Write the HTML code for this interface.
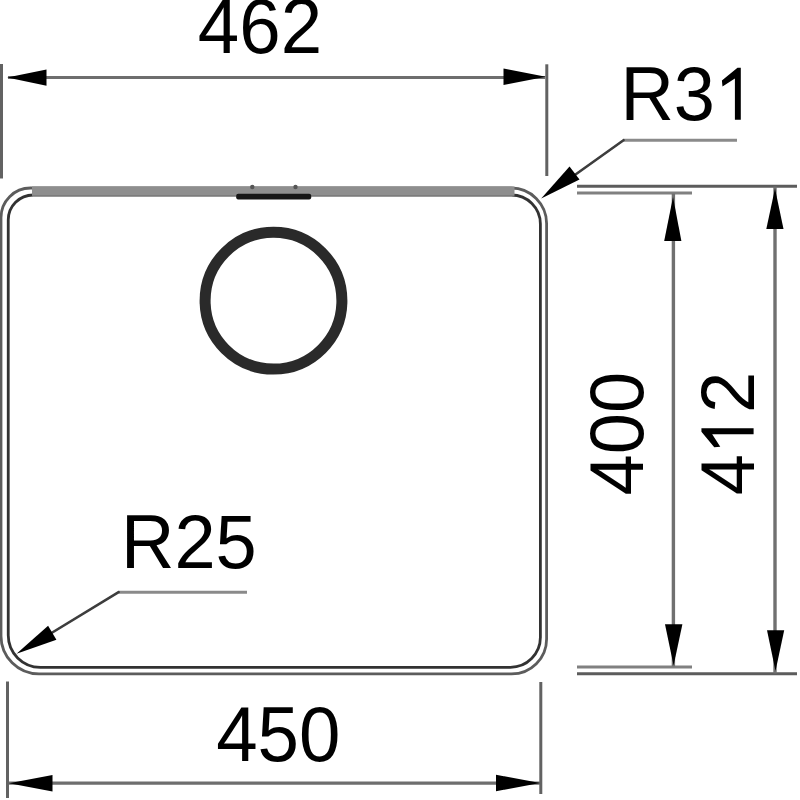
<!DOCTYPE html>
<html>
<head>
<meta charset="utf-8">
<style>
html,body{margin:0;padding:0;background:#fff;width:800px;height:800px;overflow:hidden;}
svg{display:block;position:absolute;left:0;top:0;}
text{font-family:"Liberation Sans", sans-serif;fill:#000;}
</style>
</head>
<body>
<svg width="800" height="800" viewBox="0 0 800 800">
  <defs><filter id="b" x="-5%" y="-5%" width="110%" height="110%"><feGaussianBlur stdDeviation="0.7"/></filter></defs>
  <g filter="url(#b)">
  <!-- dimension / extension lines -->
  <g stroke="#626262" stroke-width="3" fill="none">
    <!-- 462 ext -->
    <line x1="1.5" y1="64" x2="1.5" y2="178.5"/>
    <line x1="546.8" y1="64.3" x2="546.8" y2="176"/>
    <!-- 450 ext -->
    <line x1="7.5" y1="681.5" x2="7.5" y2="798"/>
    <line x1="540.8" y1="682" x2="540.8" y2="794"/>
    <!-- right extension lines -->
    <line x1="577" y1="186.2" x2="797" y2="186.2" stroke="#5c5c5c"/>
    <line x1="577" y1="193.1" x2="692" y2="193.1" stroke="#808080"/>
    <line x1="577" y1="666.9" x2="692" y2="666.9" stroke="#808080"/>
    <line x1="577" y1="673.8" x2="797" y2="673.8" stroke="#5c5c5c"/>
  </g>
  <g stroke="#6e6e6e" stroke-width="3.2" fill="none">
    <line x1="8" y1="77.5" x2="545" y2="77.5"/>
    <line x1="9" y1="783.2" x2="540" y2="783.2"/>
  </g>
  <g stroke="#707070" stroke-width="3.4" fill="none">
    <line x1="673.4" y1="193.5" x2="673.4" y2="666.5"/>
    <line x1="775" y1="186.5" x2="775" y2="673.5"/>
  </g>
  <!-- leaders -->
  <g stroke="#8a8a8a" stroke-width="3" fill="none">
    <line x1="737" y1="140.2" x2="623.5" y2="140.2"/>
    <line x1="247" y1="592.2" x2="118.6" y2="592.2"/>
  </g>
  <g stroke="#3c3c3c" stroke-width="2.6" fill="none" stroke-linecap="round">
    <line x1="623.5" y1="140.2" x2="565" y2="182"/>
    <line x1="118.6" y1="592.2" x2="40" y2="640"/>
  </g>

  <!-- arrowheads -->
  <g fill="#000" stroke="none">
    <polygon points="7.2,77.6 46.5,69.6 46.5,85.8"/>
    <polygon points="545.8,76.8 503.5,68.6 503.5,85"/>
    <polygon points="9,783.2 52.5,775.1 52.5,791.5"/>
    <polygon points="540.2,783 496,774.8 496,791.2"/>
    <polygon points="673,197 664.2,241 681.4,241"/>
    <polygon points="673.6,665.5 665,624.3 682.4,624.3"/>
    <polygon points="775,188.5 766.3,229 783.5,229"/>
    <polygon points="775.5,671 767,630.3 784.2,630.3"/>
  </g>
  <!-- R31 arrow -->
  <g transform="translate(541.2,198.5) rotate(-37.5)">
    <polygon points="0,0 42,-8.2 42,8.2" fill="#000"/>
  </g>
  <!-- R25 arrow -->
  <g transform="translate(16.5,653.8) rotate(-30.5)">
    <polygon points="0,0 41.5,-8.2 41.5,8.2" fill="#000"/>
  </g>

  <!-- sink outline -->
  <path d="M30.50,188.00 H511.10 C530.71,188.00 546.60,203.89 546.60,223.50 V638.90 C546.60,658.23 530.93,673.90 511.60,673.90 H39.00 C18.01,673.90 1.00,656.89 1.00,635.90 V217.50 C1.00,201.21 14.21,188.00 30.50,188.00Z" fill="none" stroke="#5c5c5c" stroke-width="2.8"/>
  <path d="M33.25,195.00 H511.40 C527.42,195.00 540.40,207.98 540.40,224.00 V637.30 C540.40,653.87 526.97,667.30 510.40,667.30 H40.25 C22.58,667.30 8.25,652.97 8.25,635.30 V220.00 C8.25,206.19 19.44,195.00 33.25,195.00Z" fill="none" stroke="#333" stroke-width="2.8"/>
  <rect x="32" y="186.5" width="482.5" height="9.3" fill="#8e8e8e"/>

  <!-- overflow -->
  <rect x="236.2" y="193.8" width="75" height="5.6" rx="2" fill="#151515"/>
  <circle cx="252.3" cy="187" r="2.2" fill="#555"/>
  <circle cx="295.5" cy="187" r="2.2" fill="#555"/>

  <!-- drain -->
  <circle cx="273.5" cy="300.7" r="68.4" fill="none" stroke="#2a2a2a" stroke-width="11"/>

  <!-- texts -->
  <g transform="translate(197.8,52.5) scale(1,1.035)"><text x="0" y="0" font-size="74.5">462</text></g>
  <g transform="translate(620.4,119.8) scale(1,1.035)"><text x="0" y="0" font-size="74">R3</text><path transform="translate(94.6,0)" d="M19.9,0 V-40 L7.5,-32.2 L6.9,-38 L22.5,-50.4 H25.8 V0 Z" fill="#000"/></g>
  <g transform="translate(121,567.6) scale(1,1.035)"><text x="0" y="0" font-size="74">R25</text></g>
  <g transform="translate(216.2,760.6) scale(1,1.035)"><text x="0" y="0" font-size="74.5">450</text></g>
  <g transform="translate(642.6,495.4) rotate(-90) scale(1,1.035)"><text x="0" y="0" font-size="74">400</text></g>
  <g transform="translate(753.6,495.3) rotate(-90) scale(1,1.035)">
    <text x="0" y="0" font-size="74">4</text>
    <path transform="translate(41.16,0)" d="M19.9,0 V-40 L7.5,-32.2 L6.9,-38 L22.5,-50.4 H25.8 V0 Z" fill="#000"/>
    <text x="82.31" y="0" font-size="74">2</text>
  </g>
  </g>
</svg>
</body>
</html>
